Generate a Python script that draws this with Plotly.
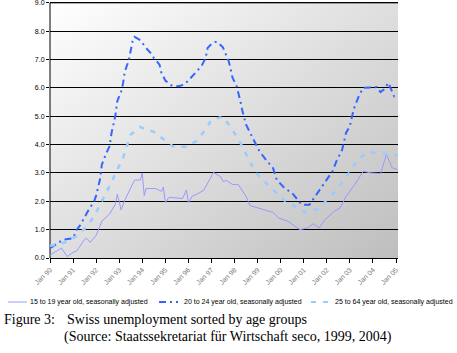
import base64
import plotly.graph_objects as go

# ---- data (month, unemployment %) ----
age_15_19_dates = ["1990-01", "1990-07", "1990-10", "1991-01", "1991-03", "1991-07", "1991-08", "1991-10",
                   "1992-01", "1992-04", "1992-08", "1992-11", "1992-12", "1993-02", "1993-04", "1993-07",
                   "1993-09", "1993-12", "1994-01", "1994-02", "1994-03", "1994-08", "1994-11", "1994-12",
                   "1995-01", "1995-03", "1995-10", "1995-12", "1996-01", "1996-03", "1996-06", "1996-09",
                   "1997-02", "1997-06", "1997-07", "1997-09", "1997-12", "1998-03", "1998-07", "1998-09",
                   "1999-01", "1999-05", "1999-09", "1999-12", "2000-02", "2000-05", "2000-09", "2000-11",
                   "2001-03", "2001-06", "2001-09", "2001-12", "2002-05", "2002-08", "2002-11", "2003-03",
                   "2003-08", "2003-12", "2004-05", "2004-08", "2004-11", "2005-02"]
age_15_19_values = [0.10, 0.35, 0.05, 0.20, 0.25, 0.65, 0.70, 0.55,
                    0.80, 1.30, 1.55, 1.90, 2.25, 1.70, 2.05, 2.50,
                    2.75, 2.75, 3.00, 2.20, 2.45, 2.45, 2.35, 2.50,
                    1.95, 2.14, 2.10, 2.40, 1.95, 2.18, 2.27, 2.39,
                    3.02, 2.85, 2.70, 2.73, 2.59, 2.59, 2.18, 1.85,
                    1.77, 1.70, 1.61, 1.41, 1.35, 1.29, 1.09, 1.00,
                    1.06, 1.21, 1.06, 1.35, 1.65, 1.77, 2.17, 2.53,
                    3.06, 3.00, 2.98, 3.65, 3.18, 3.12]

age_20_24_dates = ["1990-01", "1990-05", "1990-08", "1991-01", "1991-03", "1991-05", "1991-07", "1991-09",
                   "1991-12", "1992-01", "1992-03", "1992-04", "1992-06", "1992-08", "1992-09", "1992-10",
                   "1992-11", "1992-12", "1993-02", "1993-03", "1993-04", "1993-06", "1993-07", "1993-08",
                   "1993-09", "1993-12", "1994-03", "1994-06", "1994-07", "1994-10", "1994-11", "1995-01",
                   "1995-04", "1995-08", "1995-11", "1996-02", "1996-05", "1996-08", "1996-10", "1996-11",
                   "1997-01", "1997-03", "1997-04", "1997-07", "1997-09", "1997-10", "1997-11", "1997-12",
                   "1998-02", "1998-03", "1998-04", "1998-05", "1998-06", "1998-07", "1998-09", "1998-11",
                   "1999-01", "1999-02", "1999-06", "1999-09", "1999-11", "2000-03", "2000-07", "2000-10",
                   "2000-12", "2001-04", "2001-06", "2001-10", "2002-01", "2002-04", "2002-06", "2002-09",
                   "2002-11", "2003-01", "2003-02", "2003-03", "2003-05", "2003-06", "2003-08", "2003-12",
                   "2004-03", "2004-05", "2004-07", "2004-09", "2004-11", "2004-12", "2005-02"]
age_20_24_values = [0.35, 0.53, 0.65, 0.70, 1.00, 1.18, 1.43, 1.68,
                    2.00, 2.20, 2.76, 3.29, 3.65, 3.94, 4.41, 4.74,
                    5.02, 5.53, 5.88, 6.14, 6.59, 6.97, 7.27, 7.65,
                    7.80, 7.68, 7.41, 7.18, 7.06, 6.82, 6.53, 6.26,
                    6.09, 6.06, 6.12, 6.33, 6.55, 6.79, 7.06, 7.41,
                    7.55, 7.62, 7.62, 7.43, 7.12, 6.94, 6.65, 6.35,
                    6.08, 5.85, 5.55, 5.23, 4.94, 4.71, 4.43, 4.15,
                    3.88, 3.76, 3.41, 3.18, 2.76, 2.47, 2.29, 2.06,
                    1.88, 1.88, 2.08, 2.47, 2.76, 3.06, 3.41, 3.82,
                    4.41, 4.65, 4.96, 5.23, 5.59, 5.76, 6.00, 6.03,
                    6.03, 5.85, 5.96, 6.18, 5.82, 5.70, 5.68]

age_25_64_dates = ["1990-01", "1990-09", "1991-02", "1991-08", "1991-12", "1992-03", "1992-06", "1992-09",
                   "1992-12", "1993-03", "1993-05", "1993-07", "1993-12", "1994-01", "1994-07", "1994-12",
                   "1995-05", "1995-12", "1996-05", "1996-10", "1997-01", "1997-07", "1997-11", "1998-03",
                   "1998-06", "1998-09", "1998-12", "1999-05", "1999-10", "2000-03", "2000-09", "2001-02",
                   "2001-09", "2002-01", "2002-06", "2002-10", "2003-02", "2003-05", "2003-11", "2004-05",
                   "2004-12", "2005-02"]
age_25_64_values = [0.43, 0.55, 0.74, 1.09, 1.47, 1.85, 2.27, 2.68,
                    3.09, 3.53, 3.94, 4.35, 4.62, 4.59, 4.45, 4.20,
                    3.94, 3.92, 4.12, 4.53, 4.88, 4.98, 4.61, 4.20,
                    3.80, 3.38, 3.02, 2.67, 2.35, 2.03, 1.80, 1.61,
                    1.73, 2.06, 2.38, 2.74, 3.14, 3.49, 3.74, 3.68,
                    3.62, 3.62]

series_names = ["15 to 19 year old, seasonally adjusted",
                "20 to 24 year old, seasonally adjusted",
                "25 to 64 year old, seasonally adjusted"]
caption_label = "Figure 3:"
caption_title = "Swiss unemployment sorted by age groups"
caption_source = "(Source: Staatssekretariat für Wirtschaft seco, 1999, 2004)"
y_top = 9

# ---- styles ----
W, H = 457, 353
ML, MR, MT, MB = 50, 59, 0, 95
PW, PH = W - ML - MR, H - MT - MB
colors = ["#9999FF", "#3366FF", "#99CCFF"]
dashes = ["solid", "7px,4px,2px,4px", "5px,7px"]
widths = [1, 2, 2.5]


def px_x(p):
    return (p - ML) / PW


def px_y(p):
    return (H - MB - p) / PH


fig = go.Figure()
for d, v, name, c, dsh, w in zip(
        [age_15_19_dates, age_20_24_dates, age_25_64_dates],
        [age_15_19_values, age_20_24_values, age_25_64_values],
        series_names, colors, dashes, widths):
    fig.add_trace(go.Scatter(x=d, y=v, name=name, mode="lines",
                             line=dict(color=c, dash=dsh, width=w),
                             showlegend=False))

# gradient background of the plot area (from the top gridline down)
svg = ('<svg xmlns="http://www.w3.org/2000/svg" width="100" height="100" preserveAspectRatio="none">'
       '<defs><linearGradient id="g" x1="0" y1="0" x2="1" y2="1">'
       '<stop offset="0" stop-color="#FFFFFF"/><stop offset="1" stop-color="#BEBEBE"/>'
       '</linearGradient></defs><rect width="100" height="100" fill="url(#g)"/></svg>')
src = "data:image/svg+xml;base64," + base64.b64encode(svg.encode()).decode()
fig.add_layout_image(dict(source=src, xref="paper", yref="y", x=0, y=y_top,
                          sizex=1, sizey=y_top, sizing="stretch", layer="below",
                          xanchor="left", yanchor="top"))

# top gridline and left axis line (stop at the top gridline)
fig.add_shape(type="line", xref="paper", yref="y", x0=0, x1=1, y0=y_top, y1=y_top,
              line=dict(color="#000000", width=1), layer="between")
fig.add_shape(type="line", xref="paper", yref="y", x0=0, x1=0, y0=0, y1=y_top,
              line=dict(color="#000000", width=1), layer="between")

# manual legend
leg_y = px_y(302)
leg_items = [(8, 27, 28), (159, 178, 182), (311, 330, 333)]
for (x0, x1, xt), name, c, dsh, w in zip(leg_items, series_names, colors, dashes, widths):
    fig.add_shape(type="line", xref="paper", yref="paper",
                  x0=px_x(x0), x1=px_x(x1), y0=leg_y, y1=leg_y,
                  line=dict(color=c, dash=dsh, width=min(w, 2)))
    fig.add_annotation(text=name, xref="paper", yref="paper", x=px_x(xt), y=leg_y,
                       xanchor="left", yanchor="middle", showarrow=False,
                       font=dict(family="Liberation Sans, Arial", size=7, color="#000000"))

serif = dict(family="Liberation Serif, Times New Roman", size=14, color="#000000")
fig.add_annotation(text=caption_label, xref="paper", yref="paper", x=px_x(2), y=px_y(319),
                   xanchor="left", yanchor="middle", showarrow=False, font=serif)
fig.add_annotation(text=caption_title, xref="paper", yref="paper", x=px_x(65), y=px_y(319),
                   xanchor="left", yanchor="middle", showarrow=False, font=serif)
fig.add_annotation(text=caption_source, xref="paper", yref="paper", x=px_x(62), y=px_y(337),
                   xanchor="left", yanchor="middle", showarrow=False, font=serif)

fig.update_layout(
    width=W, height=H, margin=dict(l=ML, r=MR, t=MT, b=MB),
    paper_bgcolor="#FFFFFF", plot_bgcolor="rgba(0,0,0,0)",
    font=dict(family="Liberation Sans, Arial", size=7, color="#000000"),
)
fig.update_xaxes(type="date", range=["1990-01-01", "2005-02-01"],
                 tick0="1990-01-01", dtick="M12", tickformat="%b %y",
                 tickangle=-45, tickfont=dict(size=7, color="#777777"),
                 showgrid=False, showline=True, linecolor="#000000", linewidth=1,
                 ticks="outside", ticklen=4, tickcolor="#000000", zeroline=False)
fig.update_yaxes(range=[0, 9.1], dtick=1, tickformat=".1f",
                 tickfont=dict(size=7, color="#000000"), ticklabeloverflow="allow",
                 showgrid=True, gridcolor="#000000", gridwidth=1,
                 showline=False,
                 ticks="outside", ticklen=3, tickcolor="#000000", zeroline=False)

fig.write_html("out.html")
